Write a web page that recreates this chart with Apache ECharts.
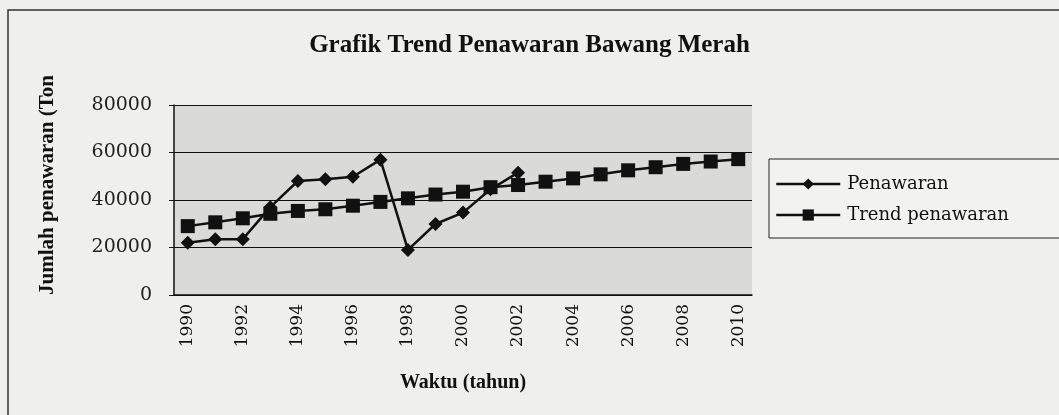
<!DOCTYPE html>
<html>
<head>
<meta charset="utf-8">
<style>
  html, body { margin: 0; padding: 0; background: #efefee; }
  #chart { width: 1059px; height: 415px; }
</style>
<script src="https://cdn.jsdelivr.net/npm/echarts@6/dist/echarts.min.js"></script>
</head>
<body>
<div id="chart"></div>
<script>
const years = ['1990', '1991', '1992', '1993', '1994', '1995', '1996', '1997', '1998', '1999', '2000',
  '2001', '2002', '2003', '2004', '2005', '2006', '2007', '2008', '2009', '2010']

// actual supply (1990-2002)
const penawaran = [22000, 23500, 23500, 37000, 48000, 48700, 49800, 57000, 19000, 29900, 34700, 44500, 51500]

// linear trend (1990-2010)
const trendPenawaran = [29000, 30600, 32300, 34200, 35400, 36100, 37600, 39200, 40700, 42300, 43500,
  45400, 46300, 47700, 49100, 50800, 52500, 53800, 55200, 56200, 57200]

const serif = '"Liberation Serif", "DejaVu Serif", serif'
const wideSerif = '"DejaVu Serif", "Liberation Serif", serif'

const chart = echarts.init(document.getElementById('chart'))

const option = {
  backgroundColor: '#efefee',
  animation: false,
  title: {
    text: 'Grafik Trend Penawaran Bawang Merah',
    left: 'center',
    top: 28,
    textStyle: { fontFamily: serif, fontWeight: 'bold', fontSize: 25, color: '#111' },
  },
  graphic: [
    {
      type: 'rect',
      shape: { x: 8, y: 10, width: 1080, height: 420 },
      style: { fill: 'none', stroke: '#333', lineWidth: 1.5 },
      silent: true,
    },
    {
      type: 'text',
      x: 48,
      y: 185,
      rotation: Math.PI / 2,
      style: {
        text: 'Jumlah penawaran (Ton',
        fontFamily: serif,
        fontWeight: 'bold',
        fontSize: 21,
        fill: '#111',
        align: 'center',
        verticalAlign: 'middle',
      },
    },
  ],
  legend: {
    orient: 'vertical',
    left: 769,
    top: 159,
    padding: [16, 80, 14, 6],
    itemGap: 13,
    itemWidth: 64,
    itemHeight: 14,
    backgroundColor: '#f2f2f1',
    borderColor: '#222',
    borderWidth: 1,
    lineStyle: { width: 2.5 },
    textStyle: { fontFamily: wideSerif, fontSize: 18, color: '#111', padding: [0, 0, 0, 2] },
    data: ['Penawaran', 'Trend penawaran'],
  },
  grid: { left: 174, right: 307, top: 105, bottom: 120 },
  xAxis: {
    type: 'category',
    data: years,
    boundaryGap: true,
    axisLine: { lineStyle: { color: '#111', width: 1.5 } },
    axisTick: { alignWithLabel: false, length: 5, lineStyle: { color: '#111' } },
    axisLabel: {
      interval: 1,
      rotate: 90,
      margin: 9,
      fontFamily: wideSerif,
      fontSize: 17,
      color: '#111',
    },
    name: 'Waktu (tahun)',
    nameLocation: 'middle',
    nameGap: 78,
    nameTextStyle: { fontFamily: serif, fontWeight: 'bold', fontSize: 20, color: '#111' },
  },
  yAxis: {
    type: 'value',
    min: 0,
    max: 80000,
    interval: 20000,
    axisLine: { show: true, lineStyle: { color: '#111', width: 1.5 } },
    axisTick: { show: true, length: 5, lineStyle: { color: '#111' } },
    axisLabel: {
      fontFamily: wideSerif,
      fontSize: 19,
      color: '#222',
      margin: 22,
      formatter: v => String(v),
    },
    splitLine: { lineStyle: { color: '#111', width: 1.2 } },
    splitArea: { show: true, areaStyle: { color: ['#dadad9', '#dadad9'] } },
  },
  series: [
    {
      name: 'Penawaran',
      type: 'line',
      data: penawaran,
      symbol: 'diamond',
      symbolSize: 14,
      lineStyle: { color: '#111', width: 2.5 },
      itemStyle: { color: '#111' },
    },
    {
      name: 'Trend penawaran',
      type: 'line',
      data: trendPenawaran,
      symbol: 'rect',
      symbolSize: 14,
      lineStyle: { color: '#111', width: 2.5 },
      itemStyle: { color: '#111' },
    },
  ],
}

chart.setOption(option)
</script>
</body>
</html>
